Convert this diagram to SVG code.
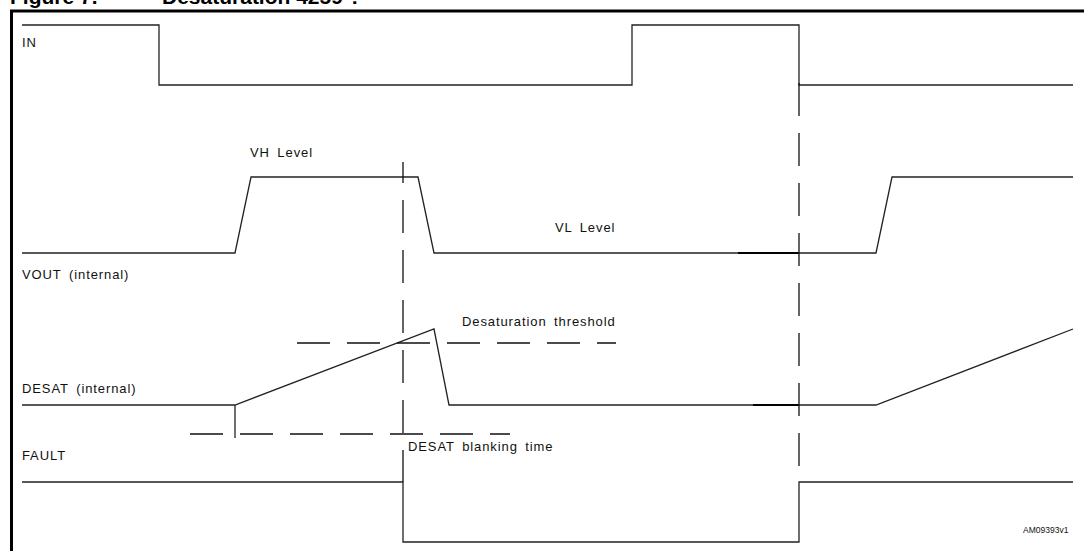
<svg xmlns="http://www.w3.org/2000/svg" width="1084" height="551" viewBox="0 0 1084 551">
<style>
.sig{fill:none;stroke:#222;stroke-width:1.3;stroke-linejoin:miter}
.dash{fill:none;stroke:#111;stroke-width:1.3;stroke-dasharray:33 17}
.bold{fill:none;stroke:#000;stroke-width:2}
.lbl{font-family:"Liberation Sans",Arial,sans-serif;font-size:13px;fill:#111;letter-spacing:0.9px;word-spacing:3px}
.title{font-family:"Liberation Sans",Arial,sans-serif;font-size:21px;font-weight:bold;fill:#000}
</style>
<rect width="1084" height="551" fill="#fff"/>
<g id="title"><text class="title" x="10" y="4">Figure 7.</text><text class="title" x="162" y="4">Desaturation 4259 ?</text></g>
<g id="frame"><path d="M11.5 551 V11 H1084" fill="none" stroke="#000" stroke-width="3"/></g>
<g id="IN"><path class="sig" d="M22 25 H159 V85 H632 V25 H799 V85 H1073"/><text class="lbl" x="22" y="47">IN</text></g>
<g id="VOUT"><path class="sig" d="M22 253 H235 L251 177 H418 L434 253 H876 L892 177 H1073"/><path class="bold" d="M738 253 H799"/><text class="lbl" x="22" y="279">VOUT (internal)</text><text class="lbl" x="250" y="157">VH Level</text><text class="lbl" x="555" y="232">VL Level</text></g>
<g id="DESAT"><path class="sig" d="M22 405 H235 L434 329 L449 405 H876 L1073 329"/><path class="sig" d="M235 405 V438"/><path class="bold" d="M753 405 H799"/><text class="lbl" x="22" y="393">DESAT (internal)</text></g>
<g id="FAULT"><path class="sig" d="M22 482 H403 V542 H799 V482 H1073"/><text class="lbl" x="22" y="460">FAULT</text></g>
<g id="connectors">
<path class="dash" d="M297 343 H616"/>
<path class="dash" d="M190 434 H510"/>
<path class="dash" d="M403 162 V482" style="stroke-dashoffset:12"/>
<path class="dash" d="M799 83 V466"/>
</g>
<g id="annotations"><text class="lbl" x="462" y="326">Desaturation threshold</text><text class="lbl" x="408" y="451">DESAT blanking time</text><text x="1023" y="533" font-family="Liberation Sans,Arial,sans-serif" font-size="8.5" fill="#111">AM09393v1</text></g>
</svg>
